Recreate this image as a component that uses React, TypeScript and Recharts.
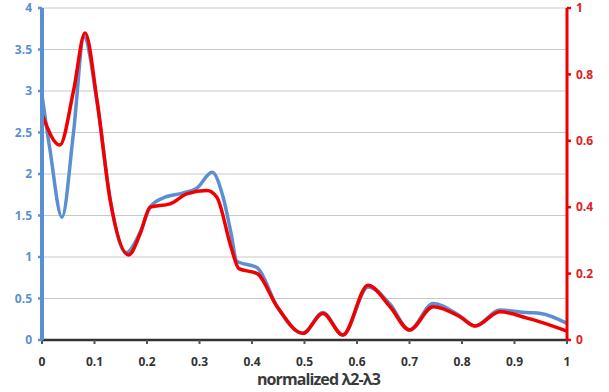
import React from 'react';
import { LineChart, Line, XAxis, YAxis, CartesianGrid, Label } from 'recharts';

const blueX = [0, 0.015, 0.038, 0.06, 0.08, 0.105, 0.13, 0.16, 0.187, 0.206, 0.23, 0.268, 0.295, 0.324, 0.345, 0.36, 0.371, 0.41, 0.448, 0.497, 0.535, 0.573, 0.621, 0.663, 0.7, 0.745, 0.796, 0.825, 0.872, 0.924, 0.95, 1];
const blueY = [2.95, 2.3, 1.48, 2.5, 3.65, 2.86, 1.69, 1.05, 1.3, 1.6, 1.71, 1.77, 1.83, 2.02, 1.72, 1.29, 0.95, 0.87, 0.4, 0.08, 0.33, 0.06, 0.64, 0.43, 0.12, 0.44, 0.29, 0.17, 0.36, 0.33, 0.32, 0.2];

const redX = [0, 0.034, 0.06, 0.082, 0.105, 0.13, 0.165, 0.187, 0.206, 0.244, 0.276, 0.314, 0.333, 0.36, 0.375, 0.41, 0.448, 0.497, 0.535, 0.573, 0.621, 0.663, 0.7, 0.745, 0.796, 0.825, 0.872, 0.924, 0.95, 1];
const redY = [0.68, 0.587, 0.75, 0.925, 0.72, 0.42, 0.256, 0.32, 0.4, 0.41, 0.44, 0.45, 0.43, 0.28, 0.215, 0.2, 0.1, 0.02, 0.08, 0.015, 0.165, 0.1, 0.03, 0.1, 0.07, 0.042, 0.085, 0.066, 0.054, 0.027];

const xTicks = [0, 0.1, 0.2, 0.3, 0.4, 0.5, 0.6, 0.7, 0.8, 0.9, 1];
const leftTicks = [0, 0.5, 1, 1.5, 2, 2.5, 3, 3.5, 4];
const rightTicks = [0, 0.2, 0.4, 0.6, 0.8, 1];
const xTitle = 'normalized λ2-λ3';

const blueData = blueX.map((x, i) => ({ x, v: blueY[i] }));
const redData = redX.map((x, i) => ({ x, r: redY[i] }));

const BLUE = '#5b8fd3';
const RED = '#f20000';
const FONT = '"Open Sans", "DejaVu Sans", sans-serif';

export default function App() {
  return (
    <div style={{ position: 'absolute', left: 0, top: 0, width: 609, height: 392, background: '#fff' }}>
      <LineChart width={609} height={392} margin={{ top: 8, right: 0, left: 0, bottom: 0 }}>
        <CartesianGrid vertical={false} stroke="#c8c8c8" strokeWidth={1} yAxisId="left" />
        <XAxis
          dataKey="x"
          type="number"
          domain={[0, 1]}
          ticks={xTicks}
          allowDuplicatedCategory={false}
          height={52}
          axisLine={{ stroke: '#333', strokeWidth: 2.5 }}
          tickLine={{ stroke: '#555', strokeWidth: 2 }}
          tickSize={4}
          tick={{ fill: '#333', fontSize: 12, fontWeight: 700, fontFamily: FONT }}
          tickMargin={13}
        >
          <Label value={xTitle} position="insideBottom" offset={7} dx={14} style={{ fill: '#3a3a3a', fontSize: 16, fontWeight: 700, fontFamily: FONT, letterSpacing: -0.9 }} />
        </XAxis>
        <YAxis
          yAxisId="left"
          domain={[0, 4]}
          ticks={leftTicks}
          width={42}
          axisLine={{ stroke: BLUE, strokeWidth: 4 }}
          tickLine={{ stroke: BLUE, strokeWidth: 2.5 }}
          tickSize={4}
          tickMargin={6}
          tick={{ fill: BLUE, fontSize: 12, fontWeight: 700, fontFamily: FONT }}
        />
        <YAxis
          yAxisId="right"
          orientation="right"
          domain={[0, 1]}
          ticks={rightTicks}
          width={42}
          axisLine={{ stroke: RED, strokeWidth: 3 }}
          tickLine={{ stroke: RED, strokeWidth: 2.5 }}
          tickSize={4}
          tickMargin={5}
          tick={{ fill: '#e0201e', fontSize: 12, fontWeight: 700, fontFamily: FONT }}
        />
        <Line yAxisId="left" data={blueData} dataKey="v" type="monotone" stroke={BLUE} strokeWidth={3.5} dot={false} isAnimationActive={false} />
        <Line yAxisId="right" data={redData} dataKey="r" type="monotone" stroke={RED} strokeWidth={3.5} dot={false} isAnimationActive={false} />
      </LineChart>
    </div>
  );
}
